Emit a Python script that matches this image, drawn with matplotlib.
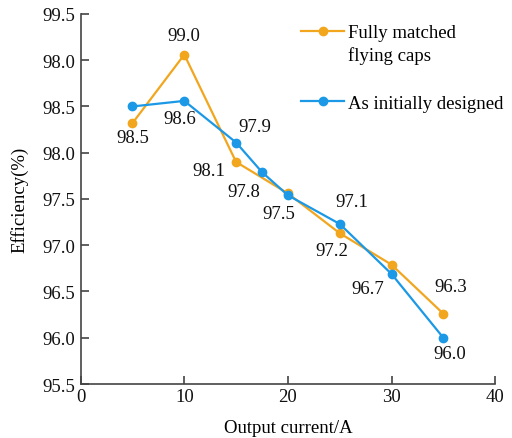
#!/usr/bin/env python3
"""
Efficiency vs output current, fully matched flying caps vs as designed
"""
import matplotlib
matplotlib.use("Agg")
import matplotlib.pyplot as plt
from matplotlib.lines import Line2D

plt.rcParams['font.family'] = ['Liberation Serif', 'DejaVu Serif']

matched_x = [5, 10, 15, 20, 25, 30, 35]
matched_y = [98.32, 99.06, 97.90, 97.56, 97.13, 96.79, 96.26]
designed_x = [5, 10, 15, 17.5, 20, 25, 30, 35]
designed_y = [98.50, 98.56, 98.11, 97.79, 97.54, 97.23, 96.69, 96.00]

# value labels as printed in the figure: (text, series, point index)
value_labels = [
    ("98.5", "m", 0), ("99.0", "m", 1), ("98.6", "d", 1), ("97.9", "d", 2),
    ("98.1", "m", 2), ("97.8", "d", 3), ("97.5", "d", 4), ("97.1", "d", 5),
    ("97.2", "m", 4), ("96.7", "d", 6), ("96.3", "m", 6), ("96.0", "d", 7),
]
label_offsets = [
    (0, -14), (0, 19), (-5, -18), (19, 16), (-27, -9), (-18, -19),
    (-9, -18), (12, 22), (-8, -17), (-24, -15), (7, 27), (6, -16),
]

y_ticks = [95.5, 96.0, 96.5, 97.0, 97.5, 98.0, 98.5, 99.0, 99.5]
y_tick_labels = ["95.5", "96.0", "96.5", "97.0", "97.5", "98.0", "98.5", "98.0", "99.5"]
x_ticks = [0, 10, 20, 30, 40]

orange = '#F2A61E'
blue = '#1B98E6'
fs = 13.5

fig = plt.figure(figsize=(5.12, 4.39), dpi=100)
ax = fig.add_axes([0.1576, 0.123, 0.8094, 0.843])

l1, = ax.plot(matched_x, matched_y, color=orange, lw=1.6, marker='o', ms=6)
l2, = ax.plot(designed_x, designed_y, color=blue, lw=1.6, marker='o', ms=6)

series = {"m": (matched_x, matched_y), "d": (designed_x, designed_y)}
for (txt, s, i), off in zip(value_labels, label_offsets):
    xs, ys = series[s]
    ax.annotate(txt, (xs[i], ys[i]), xytext=off, textcoords='offset pixels',
                ha='center', va='center', fontsize=fs, color='#111111')

ax.set_xlim(0, 40)
ax.set_ylim(95.5, 99.5)
ax.set_xticks(x_ticks)
ax.set_yticks(y_ticks)
ax.set_yticklabels(y_tick_labels)
ax.tick_params(direction='in', length=6, width=1.2, labelsize=fs,
               color='#444444', labelcolor='#111111')
ax.tick_params(axis='x', pad=3)
ax.tick_params(axis='y', pad=4)
for side in ['top', 'right']:
    ax.spines[side].set_visible(False)
for side in ['left', 'bottom']:
    ax.spines[side].set_color('#444444')
    ax.spines[side].set_linewidth(1.2)

ax.set_xlabel('Output current/A', fontsize=fs, labelpad=10)
ax.set_ylabel('Efficiency(%)', fontsize=fs, labelpad=10)

# legend: the first label wraps onto a second line, handle sits on line one
blank = Line2D([], [], alpha=0)
leg = ax.legend([l1, blank, blank, l2],
                ['Fully matched', 'flying caps', 'flying caps', 'As initially designed'],
                loc='upper left', bbox_to_anchor=(0.5, 1.008), frameon=False,
                fontsize=fs, handlelength=2.3, handletextpad=0.2,
                labelspacing=0.26, borderaxespad=0.3)
# third entry is only a spacer
spacer = leg.get_texts()[2]
spacer.set_alpha(0)
spacer.set_fontsize(17)

fig.savefig('out.png', dpi=100)
